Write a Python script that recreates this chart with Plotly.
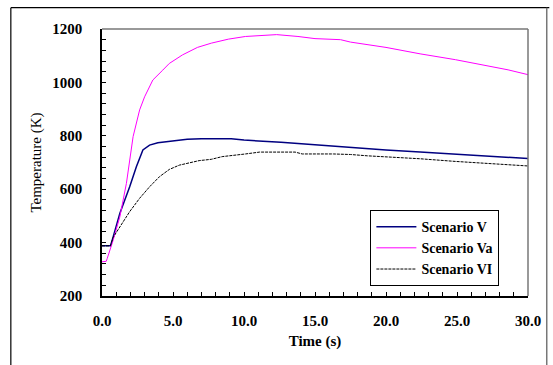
import plotly.graph_objects as go

# Data
t_v = [0.0, 0.6, 0.79, 1.26, 1.95, 2.42, 2.88, 3.35, 3.93, 4.74, 5.44, 6.0, 7.0, 9.1, 10.0, 11.4, 12.6, 13.8, 15.0, 17.5, 20.0, 22.4, 24.9, 27.3, 30.0]
temp_v = [388, 388, 422, 510, 609, 684, 747, 765, 774, 780, 783, 787, 789, 789, 784, 781, 776, 771, 766, 757, 747, 739, 731, 725, 715]

t_va = [0.0, 0.3, 0.37, 0.79, 1.26, 1.72, 2.19, 2.3, 2.65, 3.0, 3.58, 4.28, 4.74, 5.67, 6.72, 7.7, 8.9, 10.1, 11.6, 12.3, 13.8, 15.0, 16.8, 17.5, 20.0, 22.4, 24.9, 27.3, 28.6, 30.0]
temp_va = [328, 330, 341, 410, 497, 622, 797, 822, 897, 946, 1009, 1046, 1071, 1103, 1131, 1147, 1162, 1172, 1176, 1179, 1172, 1164, 1160, 1151, 1131, 1107, 1085, 1060, 1047, 1029]

t_vi = [0.0, 0.6, 0.79, 1.26, 1.95, 2.65, 3.35, 4.05, 4.74, 5.44, 6.2, 6.84, 7.7, 8.46, 10.1, 11.1, 13.6, 14.1, 16.3, 17.5, 18.7, 20.0, 22.4, 24.9, 27.3, 30.0]
temp_vi = [388, 388, 420, 460, 516, 566, 609, 647, 674, 690, 700, 707, 712, 722, 732, 739, 739, 732, 732, 730, 725, 722, 714, 704, 697, 687]

names = ["Scenario V", "Scenario Va", "Scenario VI"]
x_ticks = [0, 5, 10, 15, 20, 25, 30]
y_ticks = [200, 400, 600, 800, 1000, 1200]

FONT = "Liberation Serif"
FS = 15

fig = go.Figure()
fig.add_trace(go.Scatter(x=t_v, y=temp_v, name=names[0], mode="lines",
                         line=dict(color="#000080", width=1.5)))
fig.add_trace(go.Scatter(x=t_va, y=temp_va, name=names[1], mode="lines",
                         line=dict(color="#FF00FF", width=1)))
fig.add_trace(go.Scatter(x=t_vi, y=temp_vi, name=names[2], mode="lines",
                         line=dict(color="#000000", width=1, dash="3px,1px")))

fig.update_layout(
    width=553, height=365,
    margin=dict(l=102, r=21, t=29, b=69),
    paper_bgcolor="white", plot_bgcolor="white",
    font=dict(family=FONT, color="black", size=FS),
    showlegend=True,
    legend=dict(x=0.63, y=0.322, xanchor="left", yanchor="top",
                bordercolor="black", borderwidth=1, bgcolor="white",
                font=dict(family=FONT, size=14, color="black", weight="bold"),
                tracegroupgap=0, itemwidth=40),
    xaxis=dict(range=[0, 30], tickvals=x_ticks, tickformat=".1f",
               ticks="inside", ticklen=4, tickcolor="black",
               showline=True, linecolor="black", linewidth=1.5,
               showgrid=False, zeroline=False,
               ticklabelstandoff=10,
               minor=dict(dtick=1, ticks="inside", ticklen=4, tickcolor="black"),
               tickfont=dict(family=FONT, size=FS, weight="bold"),
               title=dict(text="Time (s)", font=dict(family=FONT, size=FS, weight="bold"), standoff=8)),
    yaxis=dict(range=[200, 1200], tickvals=y_ticks,
               ticks="inside", ticklen=4, tickcolor="black",
               showline=True, linecolor="black", linewidth=1.5,
               showgrid=False, zeroline=False,
               ticklabelstandoff=15,
               minor=dict(dtick=40, ticks="inside", ticklen=4, tickcolor="black"),
               tickfont=dict(family=FONT, size=FS, weight="bold"),
               title=dict(text="Temperature (K)", font=dict(family=FONT, size=FS), standoff=7)),
    shapes=[
        dict(type="line", xref="paper", yref="paper", x0=0, x1=1, y0=1, y1=1,
             line=dict(color="#777777", width=1.5)),
        dict(type="line", xref="paper", yref="paper", x0=1, x1=1, y0=0, y1=1,
             line=dict(color="#777777", width=1.5)),
        dict(type="line", xref="paper", yref="paper", x0=-0.214, x1=1.05, y0=1.08, y1=1.08,
             line=dict(color="black", width=1.2)),
        dict(type="line", xref="paper", yref="paper", x0=-0.214, x1=-0.214, y0=-0.3, y1=1.08,
             line=dict(color="black", width=1.2)),
        dict(type="line", xref="paper", yref="paper", x0=1.044, x1=1.044, y0=-0.3, y1=1.08,
             line=dict(color="#777777", width=1.5)),
    ],
)

fig.write_html("out.html", config={"displayModeBar": False},
               post_script="document.body.style.margin='0';")
